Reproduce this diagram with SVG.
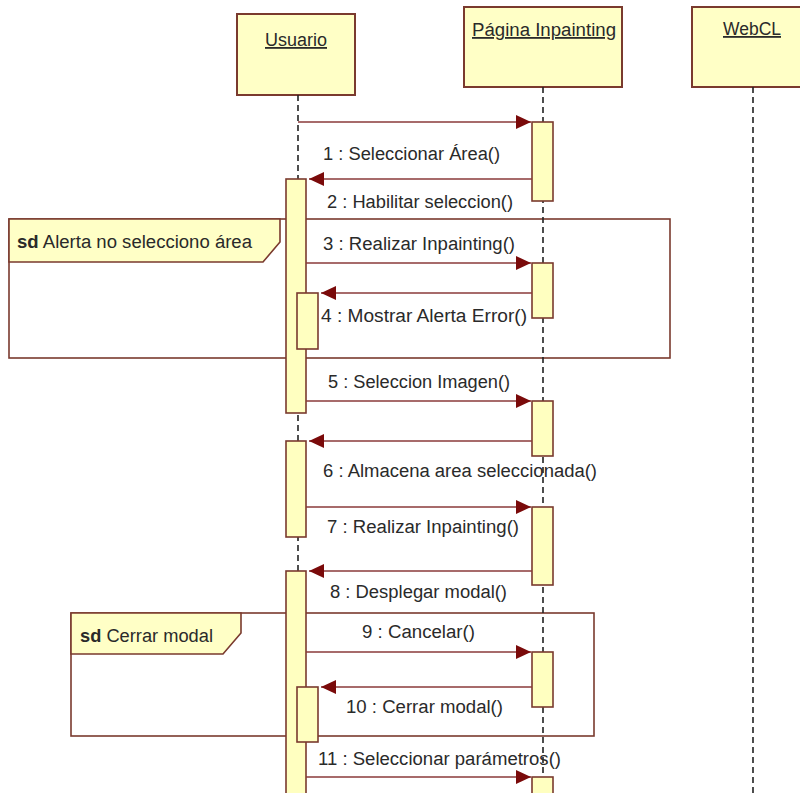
<svg xmlns="http://www.w3.org/2000/svg" width="800" height="793" viewBox="0 0 800 793">
<style>
.box{fill:#ffffc6;stroke:#7a3a2e;stroke-width:2}
.act{fill:#ffffc0;stroke:#7a3a2e;stroke-width:1.6}
.life{stroke:#222;stroke-width:1.6;stroke-dasharray:6,4;fill:none}
.frame{fill:none;stroke:#7a3a2e;stroke-width:1.6}
.tab{fill:#ffffc6;stroke:#7a3a2e;stroke-width:1.6}
.msg{stroke:#8a3a3a;stroke-width:1.6;fill:none;marker-end:url(#ah)}
text{font-family:"Liberation Sans","DejaVu Sans",sans-serif;font-size:18px;fill:#2a2a2a}
.hd{text-decoration:underline}
</style>
<defs>
<marker id="ah" markerUnits="userSpaceOnUse" markerWidth="16" markerHeight="14" refX="15" refY="7" orient="auto">
<path d="M0,0 L15,7 L0,14 z" fill="#7a0a0a"/>
</marker>
</defs>
<rect width="800" height="793" fill="#ffffff"/>

<g id="frame-alerta">
<rect class="frame" x="9" y="219" width="661" height="139"/>
<path class="tab" d="M9,219 H280 V242 L263,262 H9 Z"/>
<text x="17" y="248" textLength="235" lengthAdjust="spacingAndGlyphs"><tspan font-weight="bold">sd</tspan> Alerta no selecciono área</text>
</g>
<g id="frame-cerrar">
<rect class="frame" x="71" y="613" width="523" height="123"/>
<path class="tab" d="M71,613 H241 V633 L223,654 H71 Z"/>
<text x="80" y="642" textLength="133" lengthAdjust="spacingAndGlyphs"><tspan font-weight="bold">sd</tspan> Cerrar modal</text>
</g>

<g id="usuario">
<rect class="box" x="237" y="14" width="118" height="81"/>
<text class="hd" x="265" y="46" textLength="62" lengthAdjust="spacingAndGlyphs">Usuario</text>
<line class="life" x1="298" y1="95" x2="298" y2="793"/>
</g>
<g id="pagina">
<rect class="box" x="464" y="7" width="158" height="80"/>
<text class="hd" x="472" y="36" textLength="144" lengthAdjust="spacingAndGlyphs">Página Inpainting</text>
<line class="life" x1="543" y1="87" x2="543" y2="793"/>
</g>
<g id="webcl">
<rect class="box" x="692" y="7" width="112" height="80"/>
<text class="hd" x="723" y="35" textLength="58" lengthAdjust="spacingAndGlyphs">WebCL</text>
<line class="life" x1="753" y1="87" x2="753" y2="793"/>
</g>

<g id="activations">
<rect class="act" x="286" y="179" width="20" height="234"/>
<rect class="act" x="297" y="293" width="21" height="56"/>
<rect class="act" x="286" y="441" width="20" height="96"/>
<rect class="act" x="286" y="571" width="20" height="230"/>
<rect class="act" x="297" y="687" width="21" height="55"/>
<rect class="act" x="532" y="122" width="21" height="79"/>
<rect class="act" x="532" y="263" width="21" height="55"/>
<rect class="act" x="532" y="401" width="21" height="55"/>
<rect class="act" x="532" y="507" width="21" height="78"/>
<rect class="act" x="532" y="652" width="21" height="55"/>
<rect class="act" x="532" y="777" width="21" height="30"/>
</g>

<g id="connectors">
<line class="msg" x1="298" y1="122" x2="531" y2="122"/>
<line class="msg" x1="532" y1="179" x2="309" y2="179"/>
<line class="msg" x1="306" y1="263" x2="531" y2="263"/>
<line class="msg" x1="532" y1="293" x2="321" y2="293"/>
<line class="msg" x1="306" y1="401" x2="531" y2="401"/>
<line class="msg" x1="532" y1="441" x2="309" y2="441"/>
<line class="msg" x1="306" y1="507" x2="531" y2="507"/>
<line class="msg" x1="532" y1="571" x2="309" y2="571"/>
<line class="msg" x1="306" y1="652" x2="531" y2="652"/>
<line class="msg" x1="532" y1="687" x2="321" y2="687"/>
<line class="msg" x1="306" y1="777" x2="531" y2="777"/>
</g>

<g id="labels">
<text x="323" y="160" textLength="177" lengthAdjust="spacingAndGlyphs">1 : Seleccionar Área()</text>
<text x="327" y="208" textLength="186" lengthAdjust="spacingAndGlyphs">2 : Habilitar seleccion()</text>
<text x="323" y="250" textLength="192" lengthAdjust="spacingAndGlyphs">3 : Realizar Inpainting()</text>
<text x="321" y="322" textLength="206" lengthAdjust="spacingAndGlyphs">4 : Mostrar Alerta Error()</text>
<text x="328" y="388" textLength="182" lengthAdjust="spacingAndGlyphs">5 : Seleccion Imagen()</text>
<text x="323" y="477" textLength="274" lengthAdjust="spacingAndGlyphs">6 : Almacena area seleccionada()</text>
<text x="327" y="533" textLength="192" lengthAdjust="spacingAndGlyphs">7 : Realizar Inpainting()</text>
<text x="330" y="598" textLength="177" lengthAdjust="spacingAndGlyphs">8 : Desplegar modal()</text>
<text x="362" y="638" textLength="113" lengthAdjust="spacingAndGlyphs">9 : Cancelar()</text>
<text x="346" y="713" textLength="157" lengthAdjust="spacingAndGlyphs">10 : Cerrar modal()</text>
<text x="318" y="765" textLength="243" lengthAdjust="spacingAndGlyphs">11 : Seleccionar parámetros()</text>
</g>
</svg>
